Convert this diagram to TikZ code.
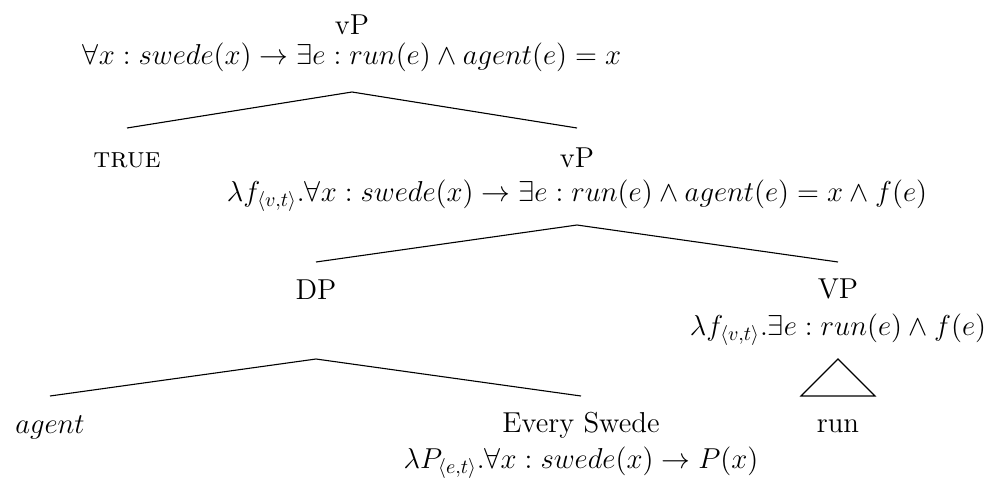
\documentclass[tikz,border=0pt]{standalone}
\usepackage{amsmath}
\begin{document}
\begin{tikzpicture}[x=0.5pt,y=-0.5pt,
  lab/.style={anchor=base, inner sep=0pt, font=\fontsize{14.4}{17}\selectfont},
  edge/.style={line width=0.55pt, black}]
\useasboundingbox (0,0) rectangle (1008,483);
% level 0
\node[lab] (root)  at (352,34) {vP};
\node[lab] (rootf) at (352,64) {$\forall x : swede(x) \rightarrow \exists e : run(e) \wedge agent(e) = x$};
% level 1
\node[lab] (tru)  at (127,167) {\textsc{true}};
\node[lab] (vpa)  at (577,167) {vP};
\node[lab] (vpaf) at (577,201) {$\lambda f_{\langle v,t\rangle}.\forall x : swede(x) \rightarrow \exists e : run(e) \wedge agent(e) = x \wedge f(e)$};
% level 2
\node[lab] (dp)   at (316,299) {DP};
\node[lab] (vpb)  at (838,298) {VP};
\node[lab] (vpbf) at (838,335) {$\lambda f_{\langle v,t\rangle}.\exists e : run(e) \wedge f(e)$};
% level 3
\node[lab] (agt)  at (50,433) {$agent$};
\node[lab] (es)   at (581,432) {Every Swede};
\node[lab] (esf)  at (581,468) {$\lambda P_{\langle e,t\rangle}.\forall x : swede(x) \rightarrow P(x)$};
\node[lab] (run)  at (838,432) {run};
% edges
\draw[edge] ([yshift=19.5pt]tru.base) -- ([yshift=-14pt]rootf.base) -- ([yshift=19.5pt]vpa.base);
\draw[edge] ([yshift=18.5pt]dp.base) -- ([yshift=-12pt]vpaf.base) -- ([yshift=18pt]vpb.base);
\draw[edge] ([yshift=18.5pt]agt.base) -- ([yshift=-30pt]dp.base) -- ([yshift=18pt]es.base);
\draw[edge] ([xshift=-18.5pt,yshift=18pt]run.base) -- ([yshift=-12pt]vpbf.base) -- ([xshift=18.5pt,yshift=18pt]run.base) -- cycle;
\end{tikzpicture}
\end{document}
